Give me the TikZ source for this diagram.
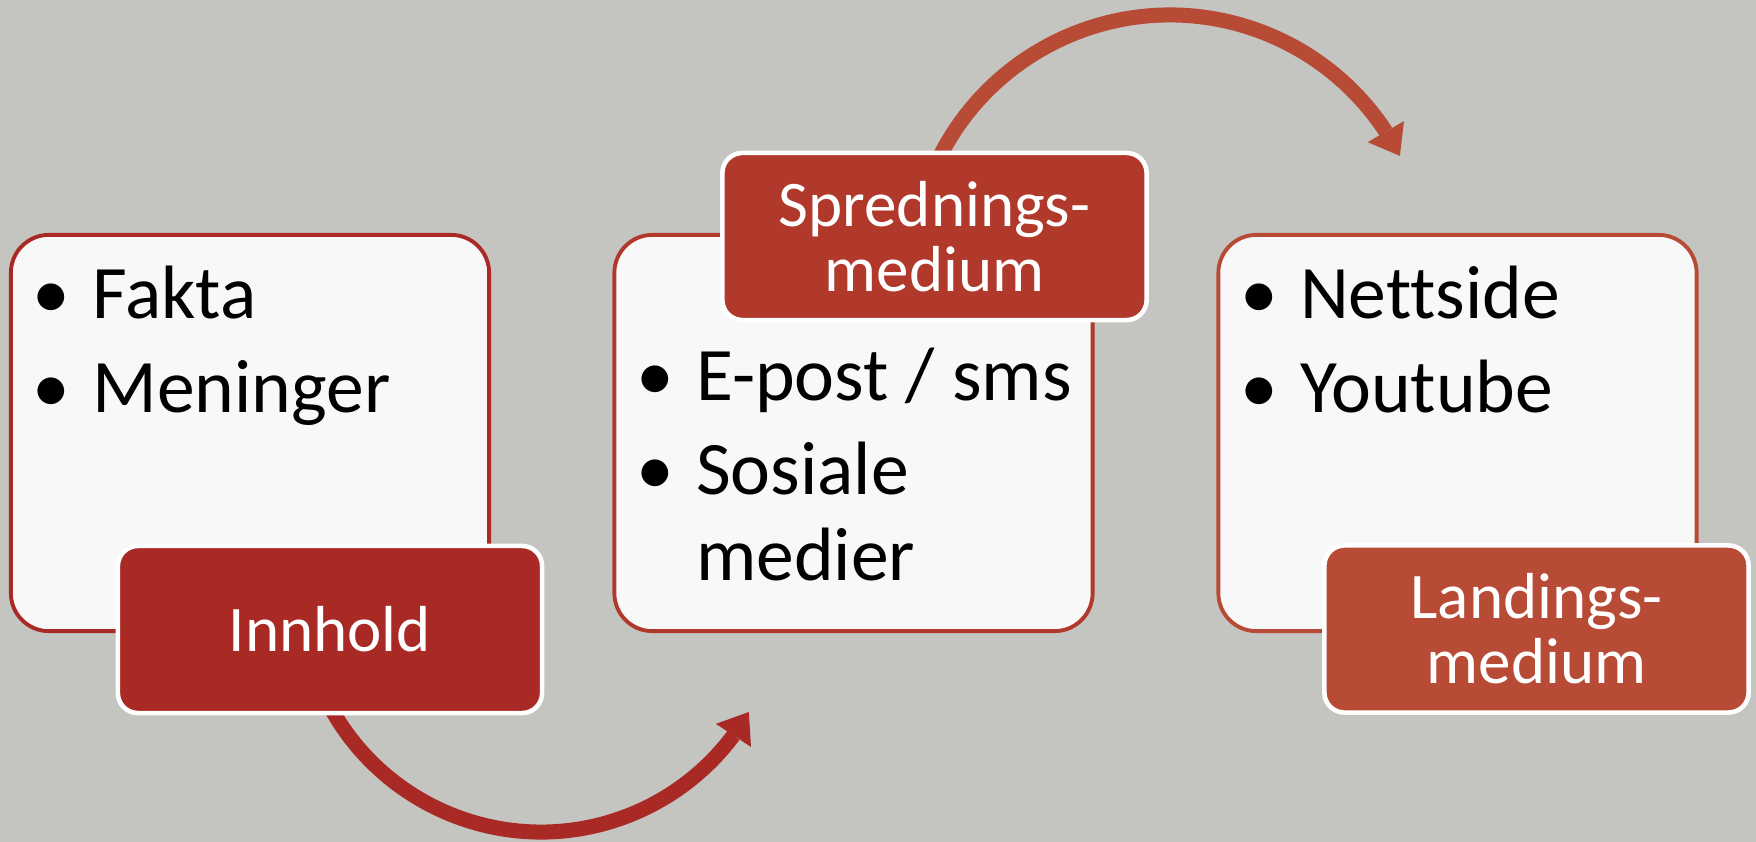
\documentclass[tikz,border=0pt]{standalone}
\usepackage{fontspec}
\setmainfont{Carlito}[Ligatures=NoCommon]
\usetikzlibrary{arrows.meta, bending, calc}

\definecolor{bakgrunn}{RGB}{196,196,193}
\definecolor{innholdrod}{RGB}{169,42,37}
\definecolor{spredrod}{RGB}{176,57,43}
\definecolor{landrod}{RGB}{184,75,53}
\definecolor{boksfyll}{RGB}{248,248,248}

\newcommand{\punkt}{\makebox[0.6cm][l]{•}}

\begin{document}
\begin{tikzpicture}[x=0.01cm, y=-0.01cm,
    boks/.style={draw=#1, fill=boksfyll, line width=1.1pt, rounded corners=0.38cm,
      minimum width=4.78cm, minimum height=3.96cm, inner sep=0pt},
    merkelapp/.style={draw=white, fill=#1, line width=1.3pt, rounded corners=0.2cm,
      minimum width=4.24cm, minimum height=1.67cm, text=white, align=center,
      font=\fontsize{18.5}{18.5}\selectfont},
    liste/.style={anchor=base west, inner sep=0pt, font=\fontsize{21.5}{24.5}\selectfont},
    pil/.style={draw=#1, line width=0.15cm,
      -{Triangle[length=0.28cm, width=0.42cm, line width=0pt]}}]

    % Фон
    \path[use as bounding box, fill=bakgrunn] (0,0) rectangle (1756,842);

    % Три блока
    \node[boks=innholdrod] (innholdboks) at (250,433) {};
    \node[boks=spredrod] (spredboks) at (853.5,433) {};
    \node[boks=landrod] (landboks) at (1457.5,433) {};

    % Дуги со стрелками
    \coordinate (nedresenter) at (541,592);
    \coordinate (nedrestart) at ($(nedresenter)+(160:240)$);
    \draw[pil=innholdrod] (nedrestart) arc[start angle=160, end angle=30, radius=240];

    \coordinate (ovresenter) at (1170,273);
    \coordinate (ovrestart) at ($(ovresenter)+(200:258)$);
    \draw[pil=landrod] (ovrestart) arc[start angle=200, end angle=333, radius=258];

    % Подписи блоков
    \node[merkelapp=innholdrod] (innhold) at (330,629.5) {Innhold};
    \node[merkelapp=spredrod] (spredning) at (934.5,236.5) {Sprednings-\\medium};
    \node[merkelapp=landrod] (landing) at (1536.5,629) {Landings-\\medium};

    % Списки
    \node[liste] (innholdliste) at ($(innholdboks.north west)+(23,86)$)
      {\begin{tabular}[t]{@{}l@{}}\punkt Fakta\\[2pt]\punkt Meninger\end{tabular}};
    \node[liste] (spredliste) at ($(spredboks.north west)+(23,168)$)
      {\begin{tabular}[t]{@{}l@{}}\punkt E-post / sms\\[2pt]\punkt Sosiale\\\hspace*{0.6cm}medier\end{tabular}};
    \node[liste] (landliste) at ($(landboks.north west)+(23,86)$)
      {\begin{tabular}[t]{@{}l@{}}\punkt Nettside\\[2pt]\punkt Youtube\end{tabular}};
\end{tikzpicture}
\end{document}
